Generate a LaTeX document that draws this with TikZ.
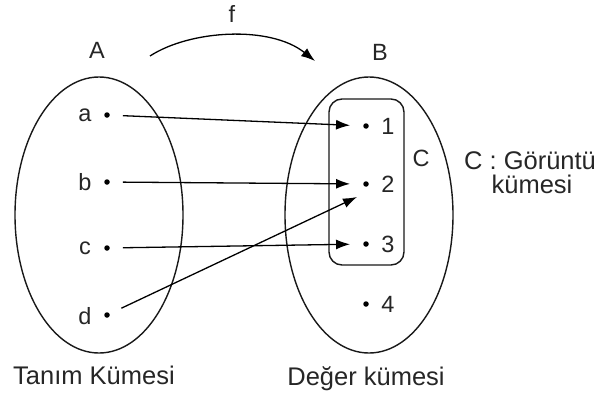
\documentclass[tikz,border=0pt]{standalone}
\usepackage{fontspec}
\setmainfont{Liberation Sans}
\usetikzlibrary{arrows.meta}
\begin{document}
\begin{tikzpicture}[x=1pt,y=-1pt,
  lbl/.style={font=\fontsize{23.5}{26}\selectfont, inner sep=0pt, text=black!85},
  big/.style={font=\fontsize{25.5}{24}\selectfont, inner sep=0pt, text=black!85},
  dot/.style={circle, fill=black, inner sep=0pt, minimum size=5.5pt},
  setline/.style={line width=1.4pt, black!90},
  arr/.style={line width=1.3pt, -{Latex[length=14pt,width=10pt]}, shorten <=13pt, shorten >=13pt}]
\useasboundingbox (0,0) rectangle (599,396);
% sets
\draw[setline] (99,215) ellipse [x radius=84, y radius=138];
\draw[setline] (369,215) ellipse [x radius=84, y radius=138];
\draw[setline, rounded corners=13pt] (329,99) rectangle (404,265);
% set names
\node[lbl, anchor=base] (A) at (97,59) {A};
\node[lbl, anchor=base] (B) at (380,60) {B};
\node[lbl, anchor=base] (f) at (232,23) {f};
\coordinate (fs) at (150,56);
\coordinate (fe) at (315,61);
\draw[line width=1.3pt, -{Latex[length=14pt,width=10pt]}] (fs) .. controls (190,30) and (270,25) .. (fe);
% domain elements
\node[dot] (a) at (107,115) {};
\node[dot] (b) at (107,182) {};
\node[dot] (c) at (107,248) {};
\node[dot] (d) at (107,315) {};
\node[lbl] (la) at (85,115) {a};
\node[lbl] (lb) at (85,182) {b};
\node[lbl] (lc) at (85,248) {c};
\node[lbl] (ld) at (85,316) {d};
% range elements
\node[dot] (p1) at (366,126) {};
\node[dot] (p2) at (366,184) {};
\node[dot] (p3) at (366,244) {};
\node[dot] (p4) at (366,304) {};
\node[lbl] (l1) at (388,126) {1};
\node[lbl] (l2) at (388,184) {2};
\node[lbl] (l3) at (388,244) {3};
\node[lbl] (l4) at (388,304) {4};
\node[lbl] (lC) at (421,158) {C};
\coordinate (t2) at (357,197);
% mapping arrows
\draw[arr] (a) -- (p1);
\draw[arr] (b) -- (p2);
\draw[arr] (c) -- (p3);
\draw[arr, shorten >=0pt] (d) -- (t2);
% captions
\node[big, anchor=base] (cg) at (530,169) {C : Görüntü};
\node[big, anchor=base] (cg2) at (532,193) {kümesi};
\node[big, anchor=base] (tk) at (94,384) {Tanım Kümesi};
\node[big, anchor=base] (dk) at (366,385) {Değer kümesi};
\end{tikzpicture}
\end{document}
